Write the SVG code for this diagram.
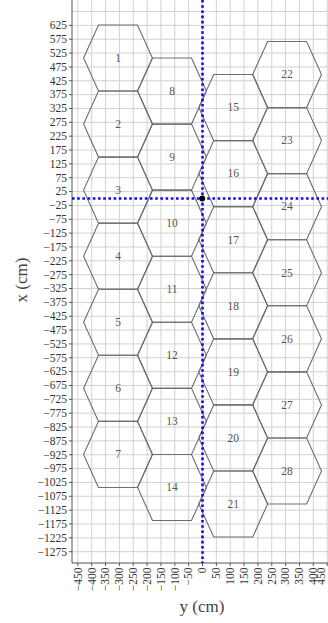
<svg xmlns="http://www.w3.org/2000/svg" xmlns:xlink="http://www.w3.org/1999/xlink" width="328" height="623" viewBox="0 0 328 623">
<style>
.grid{stroke:#d2d2d2;stroke-width:1;fill:none}
.axis{stroke:#555;stroke-width:1;fill:none}
.hex{fill:none;stroke:#6e6e6e;stroke-width:1.1;stroke-linejoin:miter}
.hl{font-family:"Liberation Serif","DejaVu Serif",serif;font-size:11.5px;fill:#555;text-anchor:middle}
.tl{font-family:"Liberation Serif","DejaVu Serif",serif;font-size:11.5px;fill:#333}
.yl{text-anchor:end}
.at{font-family:"Liberation Serif","DejaVu Serif",serif;font-size:17px;fill:#444;text-anchor:middle}
.blue{stroke:#0a0aff;stroke-width:2.6;stroke-dasharray:2.6 2.6;fill:none}
</style>
<defs>
<polygon id="hex" class="hex" points="-34.4,0 -19.5,-33.03 19.5,-33.03 34.4,0 19.5,33.03 -19.5,33.03"/>
</defs>
<rect width="328" height="623" fill="#fff"/>
<g id="grid" class="grid">
<path d="M77.85 0V563M91.7 0V563M105.55 0V563M119.4 0V563M133.25 0V563M147.1 0V563M160.95 0V563M174.8 0V563M188.65 0V563M202.5 0V563M216.35 0V563M230.2 0V563M244.05 0V563M257.9 0V563M271.75 0V563M285.6 0V563M299.45 0V563M313.3 0V563M327.15 0V563"/>
<path d="M72 11.525H328M72 25.375H328M72 39.225H328M72 53.075H328M72 66.925H328M72 80.775H328M72 94.625H328M72 108.475H328M72 122.325H328M72 136.175H328M72 150.025H328M72 163.875H328M72 177.725H328M72 191.575H328M72 205.425H328M72 219.275H328M72 233.125H328M72 246.975H328M72 260.825H328M72 274.675H328M72 288.525H328M72 302.375H328M72 316.225H328M72 330.075H328M72 343.925H328M72 357.775H328M72 371.625H328M72 385.475H328M72 399.325H328M72 413.175H328M72 427.025H328M72 440.875H328M72 454.725H328M72 468.575H328M72 482.425H328M72 496.275H328M72 510.125H328M72 523.975H328M72 537.825H328M72 551.675H328"/>
</g>
<g id="axes" class="axis">
<path d="M72 0V563H328"/>
<path d="M69 25.375H72M69 39.225H72M69 53.075H72M69 66.925H72M69 80.775H72M69 94.625H72M69 108.475H72M69 122.325H72M69 136.175H72M69 150.025H72M69 163.875H72M69 177.725H72M69 191.575H72M69 205.425H72M69 219.275H72M69 233.125H72M69 246.975H72M69 260.825H72M69 274.675H72M69 288.525H72M69 302.375H72M69 316.225H72M69 330.075H72M69 343.925H72M69 357.775H72M69 371.625H72M69 385.475H72M69 399.325H72M69 413.175H72M69 427.025H72M69 440.875H72M69 454.725H72M69 468.575H72M69 482.425H72M69 496.275H72M69 510.125H72M69 523.975H72M69 537.825H72M69 551.675H72"/>
<path d="M77.85 563V566M91.7 563V566M105.55 563V566M119.4 563V566M133.25 563V566M147.1 563V566M160.95 563V566M174.8 563V566M188.65 563V566M202.5 563V566M216.35 563V566M230.2 563V566M244.05 563V566M257.9 563V566M271.75 563V566M285.6 563V566M299.45 563V566M313.3 563V566M327.15 563V566"/>
</g>
<g id="xticklabels" class="tl yl">
<text x="67" y="29.2">625</text><text x="67" y="43">575</text><text x="67" y="56.9">525</text><text x="67" y="70.7">475</text><text x="67" y="84.6">425</text><text x="67" y="98.4">375</text><text x="67" y="112.3">325</text><text x="67" y="126.1">275</text><text x="67" y="140">225</text><text x="67" y="153.8">175</text><text x="67" y="167.7">125</text><text x="67" y="181.5">75</text><text x="67" y="195.4">25</text><text x="67" y="209.2">−25</text><text x="67" y="223.1">−75</text><text x="67" y="236.9">−125</text><text x="67" y="250.8">−175</text><text x="67" y="264.6">−225</text><text x="67" y="278.5">−275</text><text x="67" y="292.3">−325</text><text x="67" y="306.2">−375</text><text x="67" y="320">−425</text><text x="67" y="333.9">−475</text><text x="67" y="347.7">−525</text><text x="67" y="361.6">−575</text><text x="67" y="375.4">−625</text><text x="67" y="389.3">−675</text><text x="67" y="403.1">−725</text><text x="67" y="417">−775</text><text x="67" y="430.8">−825</text><text x="67" y="444.7">−875</text><text x="67" y="458.5">−925</text><text x="67" y="472.4">−975</text><text x="67" y="486.2">−1025</text><text x="67" y="500.1">−1075</text><text x="67" y="513.9">−1125</text><text x="67" y="527.8">−1175</text><text x="67" y="541.6">−1225</text><text x="67" y="555.5">−1275</text>
</g>
<g id="yticklabels" class="tl yl">
<text transform="translate(81.65,567.5) rotate(-90)">−450</text><text transform="translate(95.5,567.5) rotate(-90)">−400</text><text transform="translate(109.35,567.5) rotate(-90)">−350</text><text transform="translate(123.2,567.5) rotate(-90)">−300</text><text transform="translate(137.05,567.5) rotate(-90)">−250</text><text transform="translate(150.9,567.5) rotate(-90)">−200</text><text transform="translate(164.75,567.5) rotate(-90)">−150</text><text transform="translate(178.6,567.5) rotate(-90)">−100</text><text transform="translate(192.45,567.5) rotate(-90)">−50</text><text transform="translate(206.3,567.5) rotate(-90)">0</text><text transform="translate(220.15,567.5) rotate(-90)">50</text><text transform="translate(234,567.5) rotate(-90)">100</text><text transform="translate(247.85,567.5) rotate(-90)">150</text><text transform="translate(261.7,567.5) rotate(-90)">200</text><text transform="translate(275.55,567.5) rotate(-90)">250</text><text transform="translate(289.4,567.5) rotate(-90)">300</text><text transform="translate(303.25,567.5) rotate(-90)">350</text><text transform="translate(317.1,567.5) rotate(-90)">400</text><text transform="translate(325,567.5) rotate(-90)">450</text>
</g>
<text id="xlabel" class="at" transform="translate(27,280) rotate(-90)">x (cm)</text>
<text id="ylabel" class="at" x="202" y="612">y (cm)</text>
<g id="hex1"><use xlink:href="#hex" href="#hex" x="118" y="58"/><text class="hl" x="118" y="61.8">1</text></g>
<g id="hex2"><use xlink:href="#hex" href="#hex" x="118" y="124.07"/><text class="hl" x="118" y="127.87">2</text></g>
<g id="hex3"><use xlink:href="#hex" href="#hex" x="118" y="190.14"/><text class="hl" x="118" y="193.94">3</text></g>
<g id="hex4"><use xlink:href="#hex" href="#hex" x="118" y="256.21"/><text class="hl" x="118" y="260.01">4</text></g>
<g id="hex5"><use xlink:href="#hex" href="#hex" x="118" y="322.28"/><text class="hl" x="118" y="326.08">5</text></g>
<g id="hex6"><use xlink:href="#hex" href="#hex" x="118" y="388.35"/><text class="hl" x="118" y="392.15">6</text></g>
<g id="hex7"><use xlink:href="#hex" href="#hex" x="118" y="454.42"/><text class="hl" x="118" y="458.22">7</text></g>
<g id="hex8"><use xlink:href="#hex" href="#hex" x="172" y="91.05"/><text class="hl" x="172" y="94.85">8</text></g>
<g id="hex9"><use xlink:href="#hex" href="#hex" x="172" y="157.12"/><text class="hl" x="172" y="160.92">9</text></g>
<g id="hex10"><use xlink:href="#hex" href="#hex" x="172" y="223.19"/><text class="hl" x="172" y="226.99">10</text></g>
<g id="hex11"><use xlink:href="#hex" href="#hex" x="172" y="289.26"/><text class="hl" x="172" y="293.06">11</text></g>
<g id="hex12"><use xlink:href="#hex" href="#hex" x="172" y="355.33"/><text class="hl" x="172" y="359.13">12</text></g>
<g id="hex13"><use xlink:href="#hex" href="#hex" x="172" y="421.4"/><text class="hl" x="172" y="425.2">13</text></g>
<g id="hex14"><use xlink:href="#hex" href="#hex" x="172" y="487.47"/><text class="hl" x="172" y="491.27">14</text></g>
<g id="hex15"><use xlink:href="#hex" href="#hex" x="233.2" y="107.6"/><text class="hl" x="233.2" y="111.4">15</text></g>
<g id="hex16"><use xlink:href="#hex" href="#hex" x="233.2" y="173.67"/><text class="hl" x="233.2" y="177.47">16</text></g>
<g id="hex17"><use xlink:href="#hex" href="#hex" x="233.2" y="239.74"/><text class="hl" x="233.2" y="243.54">17</text></g>
<g id="hex18"><use xlink:href="#hex" href="#hex" x="233.2" y="305.81"/><text class="hl" x="233.2" y="309.61">18</text></g>
<g id="hex19"><use xlink:href="#hex" href="#hex" x="233.2" y="371.88"/><text class="hl" x="233.2" y="375.68">19</text></g>
<g id="hex20"><use xlink:href="#hex" href="#hex" x="233.2" y="437.95"/><text class="hl" x="233.2" y="441.75">20</text></g>
<g id="hex21"><use xlink:href="#hex" href="#hex" x="233.2" y="504.02"/><text class="hl" x="233.2" y="507.82">21</text></g>
<g id="hex22"><use xlink:href="#hex" href="#hex" x="287.1" y="74.55"/><text class="hl" x="287.1" y="78.35">22</text></g>
<g id="hex23"><use xlink:href="#hex" href="#hex" x="287.1" y="140.62"/><text class="hl" x="287.1" y="144.42">23</text></g>
<g id="hex24"><use xlink:href="#hex" href="#hex" x="287.1" y="206.69"/><text class="hl" x="287.1" y="210.49">24</text></g>
<g id="hex25"><use xlink:href="#hex" href="#hex" x="287.1" y="272.76"/><text class="hl" x="287.1" y="276.56">25</text></g>
<g id="hex26"><use xlink:href="#hex" href="#hex" x="287.1" y="338.83"/><text class="hl" x="287.1" y="342.63">26</text></g>
<g id="hex27"><use xlink:href="#hex" href="#hex" x="287.1" y="404.9"/><text class="hl" x="287.1" y="408.7">27</text></g>
<g id="hex28"><use xlink:href="#hex" href="#hex" x="287.1" y="470.97"/><text class="hl" x="287.1" y="474.77">28</text></g>
<g id="origin-lines">
<path class="blue" d="M72 198.5H328"/>
<path class="blue" d="M202.5 0V563"/>
<circle cx="202.2" cy="198.5" r="3" fill="#000"/>
</g>
</svg>
